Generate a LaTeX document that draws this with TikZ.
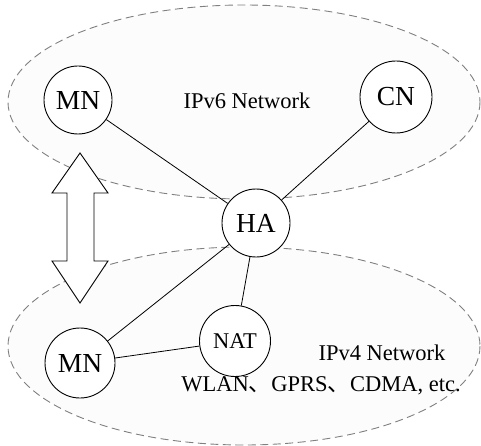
\documentclass[tikz,border=0pt]{standalone}
\usepackage{fontspec}
\setmainfont{Liberation Serif}
\newfontfamily\cjk{Noto Sans CJK SC}
\begin{document}
\begin{tikzpicture}[x=1pt,y=-1pt,
  net/.style={draw=black!50,dash pattern=on 8pt off 4.5pt,line width=0.9pt,fill=black!1},
  host/.style={circle,draw,line width=0.9pt,fill=white,minimum size=68pt,inner sep=0pt,font=\fontsize{27.5}{30}\selectfont},
  small/.style={circle,draw,line width=0.9pt,fill=white,minimum size=71pt,inner sep=0pt,font=\fontsize{22.5}{26}\selectfont},
  label/.style={font=\fontsize{22.5}{26}\selectfont},
  link/.style={line width=0.8pt}]
\useasboundingbox (0,0) rectangle (481,446);
% network clouds
\draw[net] (244,102) ellipse [x radius=236, y radius=97];
\draw[net] (244,346) ellipse [x radius=236, y radius=99];
% labels
\node[label] (v6) at (247,101) {IPv6 Network};
\node[label] (v4) at (382,353) {IPv4 Network};
\node[label] (tech) at (321,386) {WLAN{\cjk 、}GPRS{\cjk 、}CDMA, etc.};
% hosts
\node[host] (mn1) at (78,100) {MN};
\node[host,minimum size=72pt] (cn) at (396,97) {CN};
\node[host] (ha) at (256,223) {HA};
\node[small] (nat) at (235,341) {NAT};
\node[host,minimum size=70pt] (mn2) at (80,363) {MN};
% links
\draw[link] (mn1) -- (ha);
\draw[link] (cn) -- (ha);
\draw[link] (ha) -- (mn2);
\draw[link] (ha) -- (nat);
\draw[link] (mn2) -- (nat);
% movement arrow
\draw[line width=0.9pt,fill=white] (80,153) -- (108,193) -- (94,193) -- (94,261) -- (108,261)
  -- (80,303) -- (52,261) -- (67,261) -- (67,193) -- (52,193) -- cycle;
\end{tikzpicture}
\end{document}
